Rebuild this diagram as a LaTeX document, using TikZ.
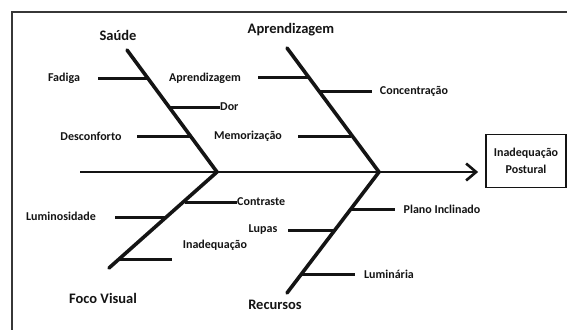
\documentclass[tikz,border=0pt]{standalone}
\usepackage{fontspec}
\setmainfont{Carlito}
\usetikzlibrary{arrows.meta}
\definecolor{ink}{HTML}{141414}
\begin{document}
\begin{tikzpicture}[x=1pt,y=-1pt,
  frame/.style={draw=ink!85,line width=2.4pt},
  spine/.style={draw=ink,line width=2.6pt},
  bone/.style={draw=ink,line width=3.6pt,line cap=round},
  twig/.style={draw=ink,line width=3pt},
  cat/.style={font=\bfseries\fontsize{14.5}{16}\selectfont,text=ink,inner sep=0pt},
  lab/.style={font=\bfseries\fontsize{12}{13}\selectfont,text=ink,inner sep=0pt},
  effect/.style={draw=ink,line width=1.8pt,minimum width=80pt,minimum height=53pt,
     align=center,font=\bfseries\fontsize{12}{17}\selectfont,text=ink,inner sep=2pt}]
\useasboundingbox (0,0) rectangle (567,329);
\fill[white] (0,0) rectangle (567,329);
% frame
\draw[frame] (12,331) -- (12,12) -- (569,12);
% effect box
\node[effect] (eff) at (526,161) {Inadequação\\Postural};
% spine
\coordinate (tail) at (80,172);
\coordinate (j1) at (217,172);
\coordinate (j2) at (379,172);
\draw[spine,-{Straight Barb[length=10pt,width=17pt]}, shorten >=7pt] (tail) -- (eff.west |- tail);
% bones
\coordinate (sTop) at (127,50);
\coordinate (aTop) at (287,48);
\coordinate (fBot) at (109,268);
\coordinate (rBot) at (287,293);
\draw[bone] (sTop) -- (j1);
\draw[bone] (aTop) -- (j2);
\draw[bone] (fBot) -- (j1);
\draw[bone] (rBot) -- (j2);
% category labels
\node[cat] (saude) at (118,35) {Saúde};
\node[cat] (aprend) at (291,30) {Aprendizagem};
\node[cat] (foco) at (103,298) {Foco Visual};
\node[cat] (recur) at (275,305) {Recursos};
% Saude twigs
\node[lab] (fadiga) at (64,78) {Fadiga};
\coordinate (f1) at (98,78); \coordinate (f2) at (148,78);
\draw[twig] (f1) -- (f2);
\node[lab,anchor=west] (dor) at (220,107) {Dor};
\coordinate (d1) at (169,107);
\draw[twig] (d1) -- (dor.west);
\node[lab] (desc) at (91,136) {Desconforto};
\coordinate (de1) at (137,136); \coordinate (de2) at (190,136);
\draw[twig] (de1) -- (de2);
% Aprendizagem twigs
\node[lab] (apsub) at (205,78) {Aprendizagem};
\coordinate (a1) at (258,77); \coordinate (a2) at (308,77);
\draw[twig] (a1) -- (a2);
\node[lab] (conc) at (414,91) {Concentração};
\coordinate (c1) at (319,91); \coordinate (c2) at (372,91);
\draw[twig] (c1) -- (c2);
\node[lab] (memo) at (248,136) {Memorização};
\coordinate (m1) at (298,136); \coordinate (m2) at (351,136);
\draw[twig] (m1) -- (m2);
% Foco Visual twigs
\node[lab,anchor=west] (contr) at (237,202) {Contraste};
\coordinate (ct1) at (185,202);
\draw[twig] (ct1) -- (contr.west);
\node[lab] (lumi) at (61,216) {Luminosidade};
\coordinate (l1) at (115,217); \coordinate (l2) at (166,217);
\draw[twig] (l1) -- (l2);
\node[lab] (inad) at (215,245) {Inadequação};
\coordinate (i1) at (120,259); \coordinate (i2) at (172,259);
\draw[twig] (i1) -- (i2);
% Recursos twigs
\node[lab] (plano) at (442,209) {Plano Inclinado};
\coordinate (p1) at (351,209); \coordinate (p2) at (395,209);
\draw[twig] (p1) -- (p2);
\node[lab] (lupas) at (263,230) {Lupas};
\coordinate (lu1) at (288,230); \coordinate (lu2) at (335,230);
\draw[twig] (lu1) -- (lu2);
\node[lab] (lumin) at (389,274) {Luminária};
\coordinate (lm1) at (302,274); \coordinate (lm2) at (355,274);
\draw[twig] (lm1) -- (lm2);
\end{tikzpicture}
\end{document}
